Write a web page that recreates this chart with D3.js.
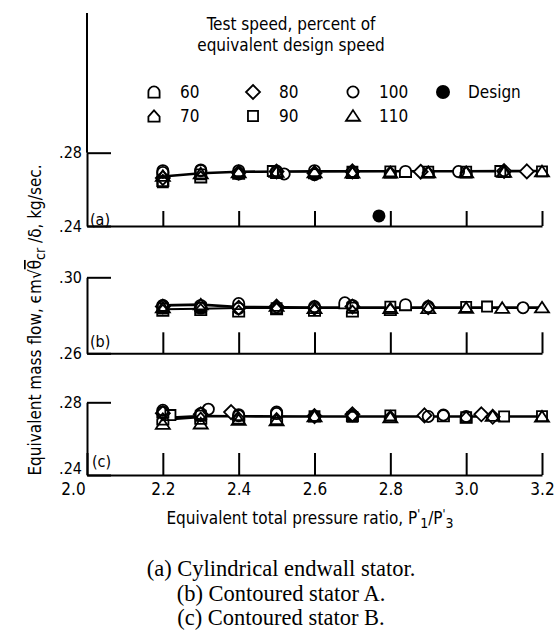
<!DOCTYPE html>
<html><head><meta charset="utf-8">
<script src="https://cdn.jsdelivr.net/npm/d3@7"></script>
<style>
html,body{margin:0;padding:0;background:#fff;}
svg text{font-family:"DejaVu Sans Condensed","Liberation Sans Narrow",sans-serif;fill:#000;}
svg text.cap{font-family:"Liberation Serif","DejaVu Serif",serif;}
</style></head><body>
<svg id="chart" width="560" height="631"></svg>
<script>
// ---------- data ----------
const speeds = ["60","70","80","90","100","110"];
const xTicks = [2.0, 2.2, 2.4, 2.6, 2.8, 3.0, 3.2];
const yTicksA = [0.24, 0.28];
const yTicksB = [0.26, 0.30];
const yTicksC = [0.24, 0.28];
const panelLabels = ["(a)", "(b)", "(c)"];
const captions = ["(a) Cylindrical endwall stator.", "(b) Contoured stator A.", "(c) Contoured stator B."];
const legendTitle = ["Test speed, percent of", "equivalent design speed"];

// panel (a) cylindrical endwall stator: [pressure ratio, flow]
const a60  = [[2.2,.2702],[2.3,.2706],[2.4,.2702],[2.5,.2700],[2.6,.2702],[2.84,.2698]];
const a70  = [[2.2,.2648],[2.3,.2668],[2.4,.2688],[2.5,.2692],[2.6,.2690],[2.7,.2692],[2.8,.2694],[2.9,.2694],[3.0,.2694],[3.1,.2697]];
const a80  = [[2.2,.2662],[2.4,.2692],[2.5,.2697],[2.6,.2688],[2.7,.2698],[2.88,.2696],[3.1,.2700],[3.16,.2698]];
const a90  = [[2.2,.2638],[2.3,.2682],[2.49,.2700],[2.7,.2696],[2.8,.2698],[2.9,.2696],[3.0,.2696],[3.09,.2700],[3.2,.2698]];
const a100 = [[2.2,.2692],[2.3,.2702],[2.4,.2684],[2.52,.2684],[2.6,.2680],[2.7,.2694],[2.98,.2697]];
const a110 = [[2.2,.2672],[2.3,.2686],[2.4,.2692],[2.5,.2694],[2.6,.2692],[2.7,.2690],[2.8,.2690],[2.9,.2692],[3.0,.2692],[3.1,.2694],[3.2,.2697]];
const fairA = [[2.2,.2670],[2.3,.2688],[2.4,.2696],[2.6,.2698],[2.8,.2699],[3.0,.2699],[3.2,.2700]];
const designA = [[2.77,.2455]];

// panel (b) contoured stator A
const b60  = [[2.2,.2852],[2.3,.2852],[2.4,.2862],[2.68,.2866],[2.84,.2856]];
const b70  = [[2.2,.2826],[2.3,.2830],[2.4,.2822],[2.5,.2835],[2.6,.2826],[2.7,.2822],[2.8,.2830]];
const b80  = [[2.2,.2846],[2.4,.2840],[2.5,.2846],[2.6,.2840],[2.7,.2846],[2.9,.2842]];
const b90  = [[2.2,.2836],[2.3,.2840],[2.5,.2838],[2.7,.2840],[2.8,.2845],[3.0,.2844],[3.055,.2846]];
const b100 = [[2.2,.2850],[2.3,.2838],[2.4,.2836],[2.6,.2846],[2.7,.2852],[2.9,.2846],[3.15,.2840]];
const b110 = [[2.2,.2840],[2.3,.2856],[2.5,.2848],[2.6,.2836],[2.8,.2836],[2.9,.2836],[3.0,.2838],[3.095,.2838],[3.2,.2840]];
const fairB1 = [[2.2,.2852],[2.3,.2856],[2.4,.2844],[2.6,.2841],[2.8,.2841],[3.0,.2841],[3.2,.2841]];
const fairB2 = [[2.2,.2832],[2.3,.2834],[2.4,.2838],[2.6,.2838],[2.8,.2838],[3.0,.2838],[3.2,.2838]];

// panel (c) contoured stator B
const c60  = [[2.2,.2746],[2.3,.2738],[2.4,.2732],[2.5,.2746],[2.94,.2726]];
const c70  = [[2.2,.2708],[2.3,.2712],[2.4,.2714],[2.5,.2710],[2.6,.2724],[2.7,.2728],[2.8,.2722],[3.0,.2718]];
const c80  = [[2.2,.2740],[2.3,.2734],[2.38,.2746],[2.6,.2724],[2.7,.2734],[2.89,.2728],[3.04,.2734],[3.07,.2720]];
const c90  = [[2.22,.2730],[2.3,.2726],[2.6,.2724],[2.7,.2720],[2.8,.2728],[3.0,.2718],[3.1,.2722],[3.2,.2724]];
const c100 = [[2.2,.2756],[2.32,.2762],[2.4,.2726],[2.5,.2738],[2.7,.2728],[2.9,.2722],[2.94,.2730],[3.0,.2722]];
const c110 = [[2.2,.2680],[2.3,.2682],[2.4,.2702],[2.5,.2700],[2.6,.2722],[2.8,.2716],[3.07,.2724],[3.2,.2720]];
const fairC = [[2.2,.2714],[2.3,.2724],[2.4,.2723],[2.6,.2722],[2.8,.2722],[3.0,.2722],[3.2,.2722]];
const fairC2 = [[2.2,.2702],[2.3,.2718]];

// ---------- drawing ----------
const svg = d3.select("#chart");
const x = d3.scaleLinear().domain([2.0, 3.2]).range([87, 542]);

// marker shapes
const r = 5.6;
const shapes = {
  "60":  `M${-r},${r}L${r},${r}L${r},0A${r},${r} 0 0 0 ${-r},0Z`,
  "70":  `M${-r},${r}L${r},${r}L${r},${r*0.1}L0,${-r}L${-r},${r*0.1}Z`,
  "80":  `M0,${-r*1.25}L${r*1.25},0L0,${r*1.25}L${-r*1.25},0Z`,
  "90":  `M${-r*0.9},${-r*0.9}L${r*0.9},${-r*0.9}L${r*0.9},${r*0.9}L${-r*0.9},${r*0.9}Z`,
  "100": `M${r},0A${r},${r} 0 1 1 ${-r},0A${r},${r} 0 1 1 ${r},0Z`,
  "110": `M0,${-r*1.05}L${r*1.25},${r*0.85}L${-r*1.25},${r*0.85}Z`
};

const fmtY = d => d3.format(".2f")(d).replace(/^0/, "");

const panels = [
  {yDom:[0.24,0.28], yRange:[226,152.7], ticks:yTicksA, tickLen:15, series:[a60,a70,a80,a90,a100,a110], fair:[fairA], lbl:[90,225], top:13, design:designA},
  {yDom:[0.26,0.30], yRange:[353.3,277.3], ticks:yTicksB, tickLen:21, series:[b60,b70,b80,b90,b100,b110], fair:[fairB1,fairB2], lbl:[90,347]},
  {yDom:[0.24,0.28], yRange:[475,402.3], ticks:yTicksC, tickLen:22, series:[c60,c70,c80,c90,c100,c110], fair:[fairC,fairC2], lbl:[92,467], labels:true}
];

panels.forEach((p, i) => {
  const y = d3.scaleLinear().domain(p.yDom).range(p.yRange);
  const g = svg.append("g");

  // left axis
  const ga = g.append("g").attr("transform", `translate(${x(2.0)},0)`)
    .call(d3.axisLeft(y).tickValues(p.ticks).tickSizeInner(-24).tickSizeOuter(0).tickPadding(5).tickFormat(fmtY));
  ga.selectAll("path,line").attr("stroke", "#000").attr("stroke-width", 2);
  ga.selectAll("text").attr("font-size", 16).attr("fill", "#000");
  if (p.labels) {
    ga.selectAll(".tick").filter(d => d === p.yDom[0]).select("text").attr("dy", "-0.1em");
  }
  if (p.top !== undefined) {
    g.append("line").attr("x1", x(2.0)).attr("x2", x(2.0)).attr("y1", y(p.yDom[1])).attr("y2", p.top)
      .attr("stroke", "#000").attr("stroke-width", 2);
  }

  // bottom axis
  const gb = g.append("g").attr("transform", `translate(0,${y(p.yDom[0])})`)
    .call(d3.axisBottom(x).tickValues(p.labels ? xTicks : xTicks.slice(1)).tickSizeInner(-p.tickLen).tickSizeOuter(0).tickPadding(8)
      .tickFormat(p.labels ? d3.format(".1f") : ""));
  gb.selectAll("path,line").attr("stroke", "#000").attr("stroke-width", 2);
  gb.selectAll("text").attr("font-size", 17).attr("fill", "#000");
  gb.selectAll(".tick").filter(d => d === 2.0).select("text").attr("x", -14);

  g.append("text").attr("x", p.lbl[0]).attr("y", p.lbl[1]).attr("font-size", 16).text(panelLabels[i]);

  // faired curves
  const line = d3.line().x(d => x(d[0])).y(d => y(d[1]));
  p.fair.forEach((f, k) => {
    g.append("path").attr("d", line(f)).attr("fill", "none").attr("stroke", "#000")
      .attr("stroke-width", k === 0 ? 2.6 : 2);
  });

  // markers: white backs then outlines
  const all = [];
  p.series.forEach((s, k) => s.forEach(d => all.push({pr:d[0], w:d[1], sp:speeds[k]})));
  g.append("g").selectAll("path").data(all).join("path")
    .attr("d", d => shapes[d.sp]).attr("transform", d => `translate(${x(d.pr)},${y(d.w)})`)
    .attr("fill", "#fff").attr("stroke", "none");
  g.append("g").selectAll("path").data(all).join("path")
    .attr("d", d => shapes[d.sp]).attr("transform", d => `translate(${x(d.pr)},${y(d.w)})`)
    .attr("fill", "none").attr("stroke", "#000").attr("stroke-width", 1.8);

  if (p.design) {
    g.selectAll("circle.design").data(p.design).join("circle").attr("class", "design")
      .attr("cx", d => x(d[0])).attr("cy", d => y(d[1])).attr("r", 6.5).attr("fill", "#000");
  }
});

// legend
const lg = svg.append("g");
lg.selectAll("text.lt").data(legendTitle).join("text").attr("class", "lt")
  .attr("x", 291).attr("y", (d, i) => 30 + i * 21).attr("text-anchor", "middle").attr("font-size", 17).text(d => d);
const legendItems = [
  {sp:"60", col:0, row:0}, {sp:"70", col:0, row:1},
  {sp:"80", col:1, row:0}, {sp:"90", col:1, row:1},
  {sp:"100", col:2, row:0}, {sp:"110", col:2, row:1}
];
const colX = [154, 253, 353, 443];
const rowY = [92, 116];
legendItems.forEach(it => {
  lg.append("path").attr("d", shapes[it.sp]).attr("transform", `translate(${colX[it.col]},${rowY[it.row]})`)
    .attr("fill", "#fff").attr("stroke", "#000").attr("stroke-width", 1.8);
  lg.append("text").attr("x", colX[it.col] + 26).attr("y", rowY[it.row] + 6).attr("font-size", 17).text(it.sp);
});
lg.append("circle").attr("cx", colX[3]).attr("cy", rowY[0]).attr("r", 7).attr("fill", "#000");
lg.append("text").attr("x", colX[3] + 25).attr("y", rowY[0] + 6).attr("font-size", 17).text("Design");

// y title
const yt = svg.append("text").attr("transform", "translate(41,320) rotate(-90)").attr("text-anchor", "middle").attr("font-size", 17);
yt.append("tspan").text("Equivalent mass flow, \u03F5m\u221A");
yt.append("tspan").attr("text-decoration", "overline").text("\u03B8");
yt.append("tspan").attr("dy", 4).attr("font-size", 14).text("cr");
yt.append("tspan").attr("dy", -4).text(" /\u03B4,  kg/sec.");

// x title
const xt = svg.append("text").attr("x", 310).attr("y", 524).attr("text-anchor", "middle").attr("font-size", 17);
xt.append("tspan").text("Equivalent total pressure ratio,  P");
xt.append("tspan").attr("dy", -6).attr("font-size", 12).text("'");
xt.append("tspan").attr("dy", 10).attr("font-size", 14).text("1");
xt.append("tspan").attr("dy", -4).text("/P");
xt.append("tspan").attr("dy", -6).attr("font-size", 12).text("'");
xt.append("tspan").attr("dy", 10).attr("font-size", 14).text("3");

// captions
svg.selectAll("text.cap").data(captions).join("text").attr("class", "cap")
  .attr("x", 281).attr("y", (d, i) => 576 + i * 24.5).attr("text-anchor", "middle").attr("font-size", 22.5).text(d => d);
</script>
</body></html>
